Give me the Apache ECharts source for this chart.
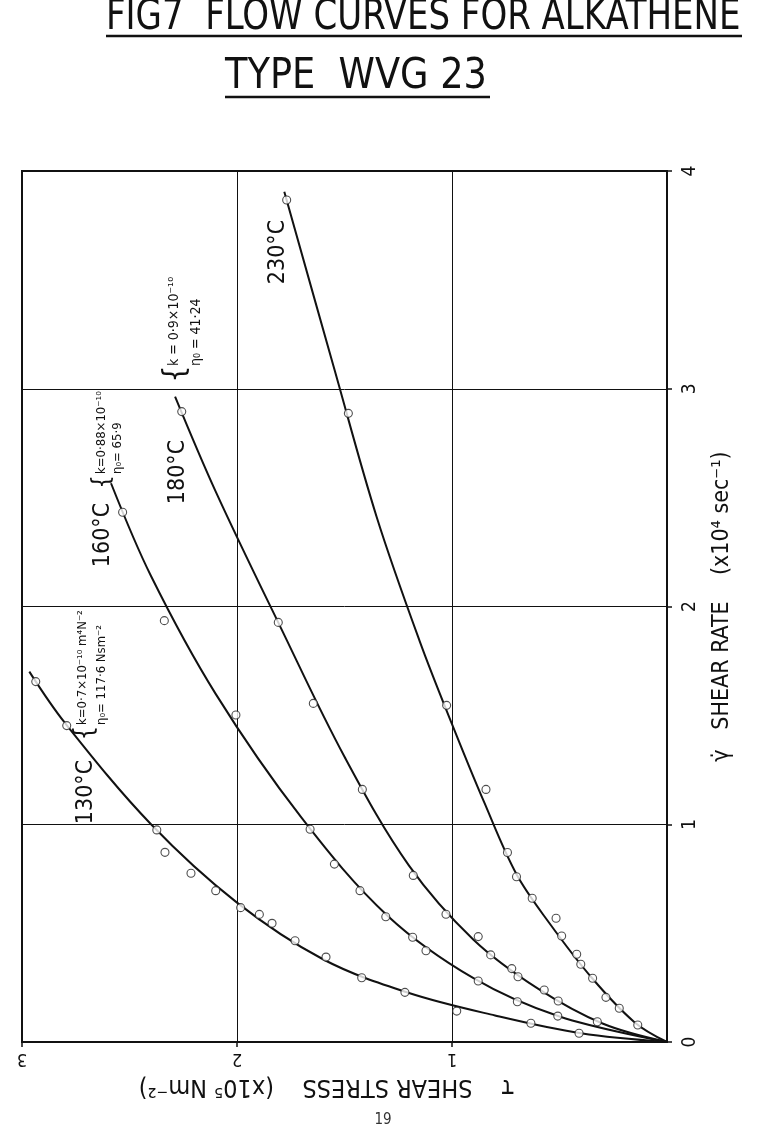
<!DOCTYPE html>
<html>
<head>
<meta charset="utf-8">
<script src="https://cdn.jsdelivr.net/npm/echarts@6/dist/echarts.min.js"></script>
<style>
  html, body { margin: 0; padding: 0; background: #fff; }
  #chart { width: 766px; height: 1138px; }
</style>
</head>
<body>
<div id="chart"></div>
<script>
// shear stress in x10^5 Nm^-2, shear rate in x10^4 sec^-1
const stressRange = [0, 3];
const rateRange = [0, 4];
const tempNames = ['130°C', '160°C', '180°C', '230°C'];

// measured points [stress, rate]
const pts130 = [[2.936, 1.655], [2.792, 1.453], [2.373, 0.974], [2.335, 0.871], [2.214, 0.775],
  [2.099, 0.695], [1.983, 0.617], [1.896, 0.586], [1.837, 0.545], [1.730, 0.465], [1.586, 0.390],
  [1.420, 0.295], [1.219, 0.228], [0.978, 0.142], [0.633, 0.086], [0.409, 0.040]];
const pts160 = [[2.532, 2.433], [2.338, 1.935], [2.005, 1.502], [1.660, 0.977], [1.547, 0.817],
  [1.428, 0.695], [1.308, 0.575], [1.183, 0.481], [1.121, 0.419], [0.878, 0.280], [0.696, 0.185],
  [0.508, 0.119]];
const pts180 = [[2.257, 2.895], [1.808, 1.927], [1.645, 1.555], [1.417, 1.160], [1.180, 0.765],
  [1.028, 0.587], [0.878, 0.484], [0.820, 0.400], [0.722, 0.337], [0.693, 0.300], [0.571, 0.239],
  [0.506, 0.188], [0.324, 0.093]];
const pts230 = [[1.769, 3.867], [1.482, 2.887], [1.025, 1.546], [0.842, 1.160], [0.742, 0.870],
  [0.700, 0.759], [0.627, 0.660], [0.516, 0.568], [0.490, 0.487], [0.420, 0.403], [0.401, 0.357],
  [0.346, 0.293], [0.284, 0.205], [0.222, 0.155], [0.136, 0.078]];

// drawn flow curves
const curve130 = [[0, 0], [0.4, 0.040], [0.8, 0.122], [1.2, 0.225], [1.6, 0.380], [2.0, 0.640],
  [2.4, 1.000], [2.8, 1.465], [2.966, 1.701]];
const curve160 = [[0, 0], [0.5, 0.117], [0.9, 0.293], [1.3, 0.580], [1.7, 1.030], [2.1, 1.600],
  [2.4, 2.140], [2.586, 2.566]];
const curve180 = [[0, 0], [0.3, 0.085], [0.6, 0.245], [0.9, 0.470], [1.2, 0.810], [1.5, 1.310],
  [1.8, 1.910], [2.1, 2.530], [2.288, 2.964]];
const curve230 = [[0, 0], [0.15, 0.090], [0.35, 0.295], [0.55, 0.550], [0.7, 0.770], [0.85, 1.100],
  [1.0, 1.460], [1.15, 1.840], [1.35, 2.410], [1.55, 3.100], [1.78, 3.905]];

const FONT = '"DejaVu Sans Condensed", "DejaVu Sans", sans-serif';
const INK = '#111';

const chart = echarts.init(document.getElementById('chart'));

const curves = [curve130, curve160, curve180, curve230];
const points = [pts130, pts160, pts180, pts230];

let series = [];
tempNames.forEach((name, i) => {
  series.push({
    name: name,
    type: 'line',
    data: curves[i],
    smooth: 0.35,
    showSymbol: false,
    symbol: 'none',
    lineStyle: { color: INK, width: 2 },
    z: 3,
  });
  series.push({
    name: name,
    type: 'scatter',
    data: points[i],
    symbol: 'circle',
    symbolSize: 8,
    itemStyle: { color: '#fff', borderColor: '#222', borderWidth: 1.1 },
    z: 4,
  });
});

// rotated annotation text (reads bottom to top, as on the sheet)
function vtext(x, y, text, size) {
  return {
    type: 'text',
    x: x,
    y: y,
    rotation: Math.PI / 2,
    style: {
      text: text,
      fontSize: size,
      fontFamily: FONT,
      fill: INK,
      align: 'center',
      verticalAlign: 'middle',
    },
  };
}

function vblock(x, y, text, size, lh) {
  return {
    type: 'text',
    x: x,
    y: y,
    rotation: Math.PI / 2,
    style: {
      text: text,
      fontSize: size,
      fontFamily: FONT,
      fill: INK,
      lineHeight: lh,
      align: 'left',
      verticalAlign: 'top',
    },
  };
}

let option = {
  backgroundColor: '#fff',
  animation: false,
  grid: {
    left: 22,
    right: 99,
    top: 171,
    bottom: 96,
    show: true,
    borderColor: INK,
    borderWidth: 2,
    outerBoundsMode: 'none',
  },
  xAxis: {
    type: 'value',
    min: stressRange[0],
    max: stressRange[1],
    interval: 1,
    inverse: true,
    position: 'bottom',
    name: '     τ    SHEAR STRESS    (x10⁵ Nm⁻²)',
    nameLocation: 'middle',
    nameGap: 32,
    nameRotate: 180,
    nameTextStyle: { fontFamily: FONT, fontSize: 25, color: INK },
    axisLine: { show: true, lineStyle: { color: INK, width: 2 } },
    axisTick: { show: true, length: 5, lineStyle: { color: INK, width: 1.5 } },
    axisLabel: { rotate: 180, margin: 8, fontSize: 18, fontFamily: FONT, color: INK, showMinLabel: false },
    splitLine: { show: true, lineStyle: { color: INK, width: 1 } },
  },
  yAxis: {
    type: 'value',
    min: rateRange[0],
    max: rateRange[1],
    interval: 1,
    position: 'right',
    name: 'γ̇   SHEAR RATE    (x10⁴ sec⁻¹)',
    nameLocation: 'middle',
    nameGap: 44,
    nameRotate: 90,
    nameTextStyle: { fontFamily: FONT, fontSize: 23, color: INK },
    axisLine: { show: true, lineStyle: { color: INK, width: 2 } },
    axisTick: { show: true, length: 5, lineStyle: { color: INK, width: 1.5 } },
    axisLabel: { rotate: 90, margin: 14, fontSize: 19, fontFamily: FONT, color: INK },
    splitLine: { show: true, lineStyle: { color: INK, width: 1 } },
  },
  series: series,
  graphic: [
    {
      type: 'text', x: 106, y: 18, scaleX: 0.9,
      style: { text: 'FIG7  FLOW CURVES FOR ALKATHENE', fontSize: 42, fontFamily: FONT, fill: INK,
        align: 'left', verticalAlign: 'middle' },
    },
    { type: 'line', shape: { x1: 106, y1: 36, x2: 742, y2: 36 }, style: { stroke: INK, lineWidth: 2.5 } },
    {
      type: 'text', x: 225, y: 77, scaleX: 0.95,
      style: { text: 'TYPE  WVG 23', fontSize: 43, fontFamily: FONT, fill: INK,
        align: 'left', verticalAlign: 'middle' },
    },
    { type: 'line', shape: { x1: 225, y1: 97, x2: 490, y2: 97 }, style: { stroke: INK, lineWidth: 2.5 } },

    vtext(278, 252, tempNames[3], 23),
    vtext(178, 472, tempNames[2], 23),
    vtext(103, 535, tempNames[1], 23),
    vtext(86, 792, tempNames[0], 23),

    vtext(176, 374, '{', 30),
    vblock(163, 366, 'k = 0·9×10⁻¹⁰\nη₀ = 41·24', 14, 22),
    vtext(103, 482, '{', 24),
    vblock(94, 474, 'k=0·88×10⁻¹⁰\nη₀= 65·9', 13, 16),
    vtext(85, 733, '{', 26),
    vblock(73, 725, 'k=0·7×10⁻¹⁰ m⁴N⁻²\nη₀= 117·6 Nsm⁻²', 13, 19),

    {
      type: 'text', x: 383, y: 1120,
      style: { text: '19', fontSize: 15, fontFamily: FONT, fill: '#333', align: 'center', verticalAlign: 'middle' },
    },
  ],
};

chart.setOption(option);
</script>
</body>
</html>
